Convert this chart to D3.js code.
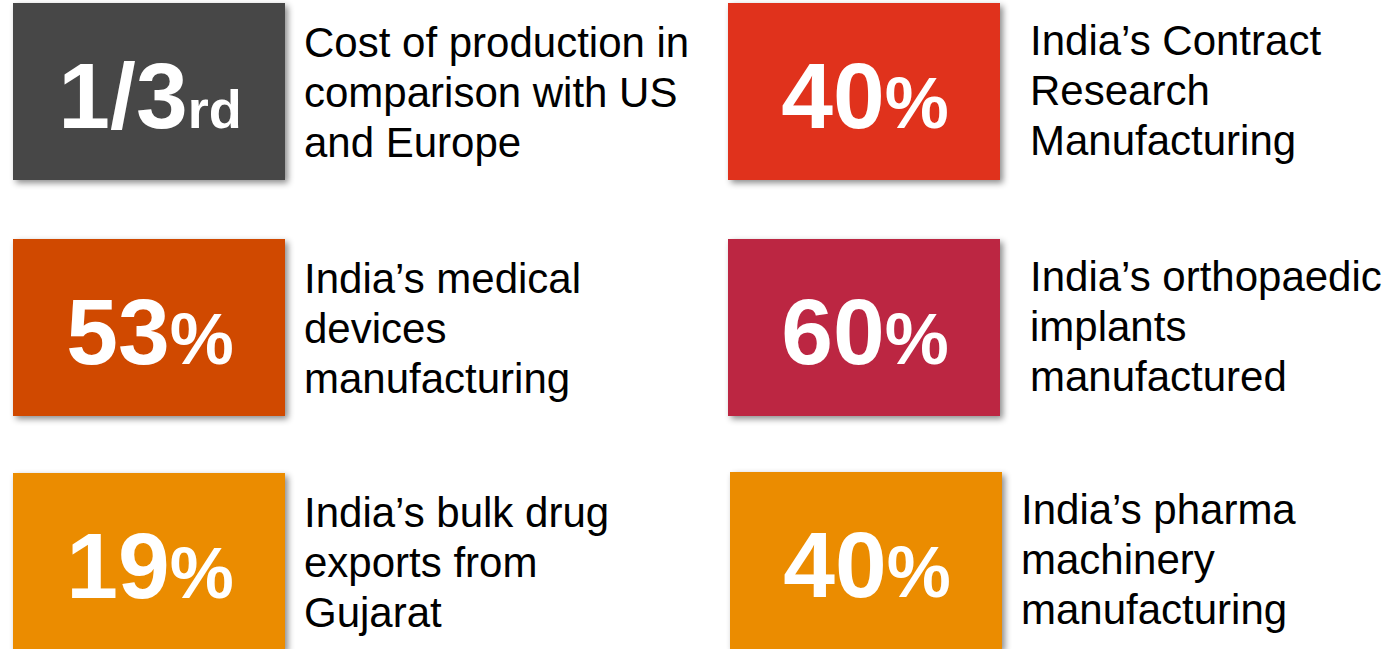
<!DOCTYPE html>
<html>
<head>
<meta charset="utf-8">
<script src="https://cdn.jsdelivr.net/npm/d3@7"></script>
<style>
  html, body { margin: 0; padding: 0; background: #ffffff; }
  svg { display: block; }
</style>
</head>
<body>
<svg id="chart" width="1392" height="649"></svg>
<script>
// ---- data ----
const figures = ["1/3", "40", "53", "60", "19", "40"];
const suffixes = ["rd", "%", "%", "%", "%", "%"];
const descriptions = [
  ["Cost of production in", "comparison with US", "and Europe"],
  ["India’s Contract", "Research", "Manufacturing"],
  ["India’s medical", "devices", "manufacturing"],
  ["India’s orthopaedic", "implants", "manufactured"],
  ["India’s bulk drug", "exports from", "Gujarat"],
  ["India’s pharma", "machinery", "manufacturing"]
];
const boxColors = ["#464646", "#E0321F", "#D04A02", "#BC2743", "#EB8C00", "#EB8C00"];

// ---- layout ----
const svg = d3.select("#chart");
const W = 1392, H = 649;
const boxW = 272, boxH = 177;

const defs = svg.append("defs");
const f = defs.append("filter").attr("id", "shadow")
  .attr("x", "-10%").attr("y", "-10%").attr("width", "130%").attr("height", "130%");
f.append("feDropShadow").attr("dx", 3).attr("dy", 3).attr("stdDeviation", 3)
  .attr("flood-color", "#000").attr("flood-opacity", 0.45);

const items = figures.map((v, i) => ({
  i, value: v, suffix: suffixes[i], lines: descriptions[i], color: boxColors[i],
  col: i % 2, row: Math.floor(i / 2)
}));

const colX = d3.scaleOrdinal().domain([0, 1]).range([13, 728]);
const rowY = d3.scaleOrdinal().domain([0, 1, 2]).range([3, 239, 472]);
// small per-item nudges seen in the reference
const boxDx = d => (d.col === 1 && d.row === 2) ? 2 : 0;
const boxDy = d => (d.col === 0 && d.row === 2) ? 1 : 0;
const textX = d => d.col === 0 ? 304 : (d.row === 2 ? 1021 : 1030);
const textDy = d => d.col === 0 ? 0 : -2;

const g = svg.selectAll("g.item").data(items).enter().append("g").attr("class", "item");

g.append("rect")
  .attr("x", d => colX(d.col) + boxDx(d))
  .attr("y", d => rowY(d.row) + boxDy(d))
  .attr("width", boxW)
  .attr("height", boxH)
  .attr("fill", d => d.color)
  .attr("filter", "url(#shadow)");

const big = g.append("text")
  .attr("x", d => colX(d.col) + boxDx(d) + boxW / 2 + 1)
  .attr("y", d => rowY(d.row) + boxDy(d) + 125)
  .attr("text-anchor", "middle")
  .attr("fill", "#ffffff")
  .attr("font-family", "'Liberation Sans', Arial, sans-serif")
  .attr("font-weight", "bold");
big.append("tspan").attr("font-size", 93).text(d => d.value);
big.append("tspan")
  .attr("font-size", d => d.suffix === "rd" ? 54 : 72)
  .text(d => d.suffix);

const lbl = g.append("text")
  .attr("fill", "#000000")
  .attr("font-family", "'Liberation Sans', Arial, sans-serif")
  .attr("font-size", 42);
lbl.selectAll("tspan").data(d => d.lines.map((t, k) => ({t, k, d}))).enter()
  .append("tspan")
  .attr("x", o => textX(o.d))
  .attr("y", o => rowY(o.d.row) + boxDy(o.d) + textDy(o.d) + 54 + o.k * 50)
  .text(o => o.t);
</script>
</body>
</html>
